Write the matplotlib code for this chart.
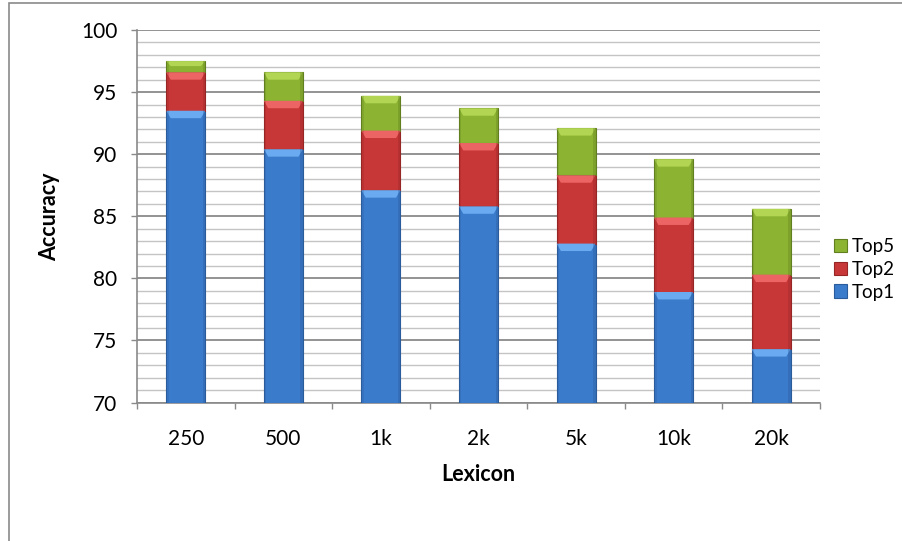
import matplotlib
matplotlib.use("Agg")
import matplotlib.pyplot as plt
from matplotlib.patches import Polygon, Rectangle
import numpy as np

plt.rcParams['font.family'] = ['Lato', 'DejaVu Sans']

# cumulative accuracy per lexicon size
lexicon = ["250", "500", "1k", "2k", "5k", "10k", "20k"]
top1 = [93.5, 90.4, 87.1, 85.8, 82.8, 78.9, 74.3]
top2 = [96.6, 94.3, 91.9, 90.9, 88.3, 84.9, 80.3]
top5 = [97.5, 96.6, 94.7, 93.7, 92.1, 89.6, 85.6]

series = [
    ("Top1", "#3b7bcb", "#6aaaf0", "#2a5b9a"),
    ("Top2", "#c83737", "#ec6464", "#962626"),
    ("Top5", "#8cb432", "#b2d654", "#627f20"),
]

fig = plt.figure(figsize=(9.03, 5.41), dpi=100)
ax = fig.add_axes([0.1517, 0.256, 0.7563, 0.6885])

x = np.arange(len(lexicon))
width = 0.4
ymin = 70
bottoms = [ymin] * len(lexicon)
handles = []
for (name, color, light, dark), tops in zip(series, [top1, top2, top5]):
    heights = [t - b for t, b in zip(tops, bottoms)]
    bars = ax.bar(x, heights, width, bottom=bottoms, color=color,
                  edgecolor=dark, linewidth=0.8, zorder=3, label=name)
    handles.append(bars)
    # bevel highlight at the top of each segment
    for xi, b, t in zip(x, bottoms, tops):
        h = min(0.6, (t - b) * 0.45)
        inset = 0.045
        poly = Polygon([(xi - width / 2, t), (xi + width / 2, t),
                        (xi + width / 2 - inset, t - h), (xi - width / 2 + inset, t - h)],
                       closed=True, facecolor=light, edgecolor='none', zorder=4)
        ax.add_patch(poly)
        ax.add_patch(Rectangle((xi + width / 2 - 0.025, b), 0.025, t - b,
                               facecolor=dark, alpha=0.35, edgecolor='none', zorder=4))
        ax.add_patch(Rectangle((xi - width / 2, b), 0.025, t - b,
                               facecolor=dark, alpha=0.25, edgecolor='none', zorder=4))
    bottoms = tops

ax.set_xlim(-0.5, len(lexicon) - 0.5)
ax.set_ylim(70, 100)
ax.set_yticks(np.arange(70, 101, 5))
ax.set_yticks(np.arange(70, 101, 1), minor=True)
ax.yaxis.grid(True, which='major', color='#8a8a8a', linewidth=1.3, zorder=0)
ax.yaxis.grid(True, which='minor', color='#c4c4c4', linewidth=1.0, zorder=0)
ax.set_axisbelow(True)

ax.set_xticks(x)
ax.set_xticklabels(lexicon)
ax.set_xticks(np.arange(-0.5, len(lexicon), 1), minor=True)
ax.tick_params(axis='x', which='major', length=0, pad=19, labelsize=15)
ax.tick_params(axis='x', which='minor', length=4, width=1, color='#8a8a8a', direction='out')
ax.tick_params(axis='y', which='major', length=4, width=1, color='#8a8a8a', pad=10, labelsize=15)
ax.tick_params(axis='y', which='minor', length=0)

for side in ['top', 'right']:
    ax.spines[side].set_visible(False)
for side in ['left', 'bottom']:
    ax.spines[side].set_color('#8a8a8a')
    ax.spines[side].set_linewidth(1.2)

ax.set_xlabel("Lexicon", fontsize=15.5, fontweight='bold', labelpad=11)
ax.set_ylabel("Accuracy", fontsize=15.5, fontweight='bold', labelpad=15)

leg = fig.legend(handles[::-1], [h.get_label() for h in handles[::-1]],
                 loc='center left', bbox_to_anchor=(0.905, 0.502), frameon=False,
                 fontsize=13.5, handlelength=0.7, handleheight=0.7,
                 handletextpad=0.25, labelspacing=0.3)

# chart area border
fig.add_artist(Rectangle((9 / 903, -0.1), 1.2, 1 - 3 / 541 + 0.1,
                         transform=fig.transFigure, fill=False,
                         edgecolor='#8a8a8a', linewidth=1.2))

fig.savefig("out.png", dpi=100)
